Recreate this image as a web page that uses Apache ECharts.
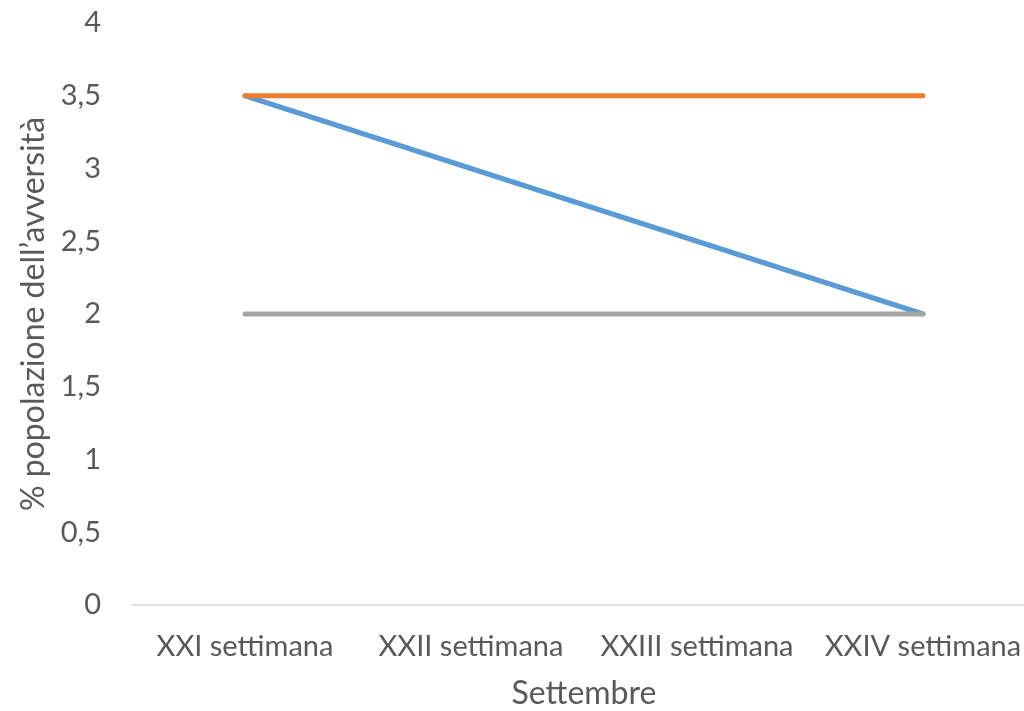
<!DOCTYPE html>
<html>
<head>
<meta charset="utf-8">
<script src="https://cdn.jsdelivr.net/npm/echarts@6/dist/echarts.min.js"></script>
<style>
  html, body { margin: 0; padding: 0; background: #fff; }
  #main { width: 1024px; height: 711px; }
</style>
</head>
<body>
<div id="main"></div>
<script>
// categorie e valori
const weeks = ["XXI settimana", "XXII settimana", "XXIII settimana", "XXIV settimana"];
const serieBlu = [3.5, 3, 2.5, 2];
const serieArancio = [3.5, 3.5, 3.5, 3.5];
const serieGrigia = [2, 2, 2, 2];

const font = "Lato, 'Open Sans', sans-serif";
const textColor = "#595959";

const lineSeries = (data, color) => ({
  type: "line",
  data,
  symbol: "none",
  lineStyle: { color, width: 5, cap: "round", join: "round" },
  emphasis: { disabled: true },
  animation: false,
});

const option = {
  animation: false,
  grid: {
    left: 132,
    top: 23,
    width: 904,
    height: 582,
    containLabel: false,
    outerBoundsMode: "none",
  },
  xAxis: {
    type: "category",
    data: weeks,
    boundaryGap: true,
    name: "Settembre",
    nameLocation: "middle",
    nameGap: 73,
    nameTextStyle: { color: textColor, fontSize: 32, fontFamily: font },
    axisLine: { lineStyle: { color: "#d9d9d9", width: 1.5 } },
    axisTick: { show: false },
    axisLabel: {
      color: textColor,
      fontSize: 29,
      fontFamily: font,
      margin: 27,
      interval: 0,
      hideOverlap: false,
    },
  },
  yAxis: {
    type: "value",
    min: 0,
    max: 4,
    interval: 0.5,
    name: "% popolazione dell’avversità",
    nameLocation: "middle",
    nameGap: 80,
    nameTextStyle: { color: textColor, fontSize: 32, fontFamily: font },
    splitLine: { show: false },
    axisLine: { show: false },
    axisTick: { show: false },
    axisLabel: {
      color: textColor,
      fontSize: 29,
      fontFamily: font,
      margin: 31,
      formatter: (v) => String(v).replace(".", ","),
    },
  },
  series: [
    lineSeries(serieBlu, "#5b9bd5"),
    lineSeries(serieArancio, "#ed7d31"),
    lineSeries(serieGrigia, "#a5a5a5"),
  ],
};

const myChart = echarts.init(document.getElementById("main"));
myChart.setOption(option);
</script>
</body>
</html>
